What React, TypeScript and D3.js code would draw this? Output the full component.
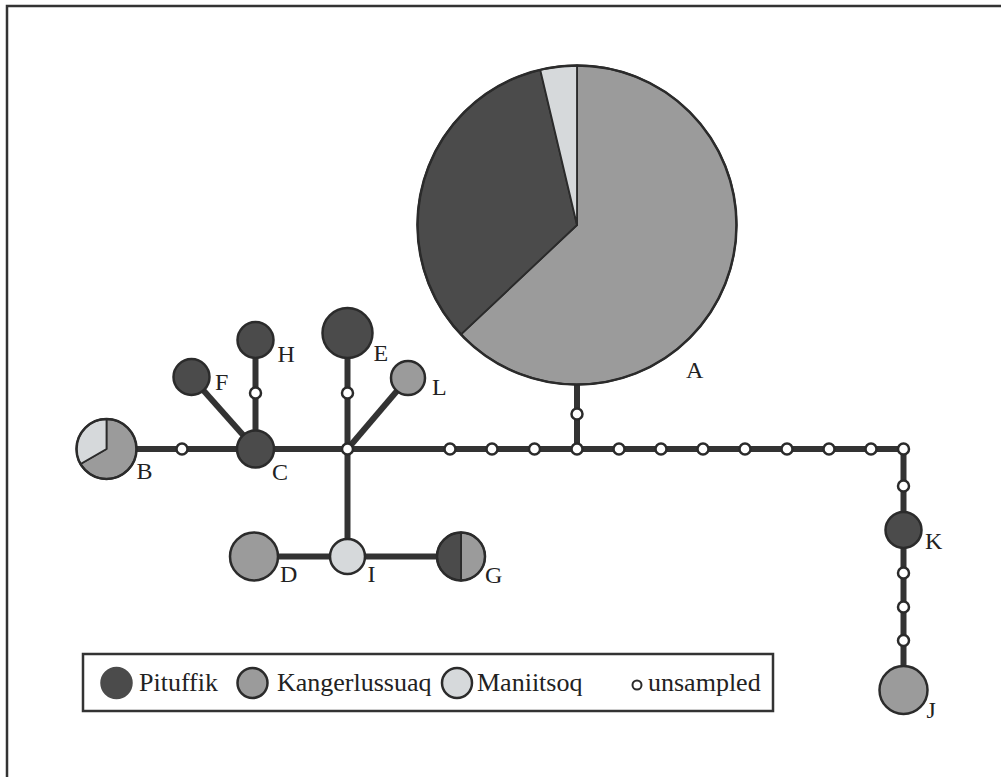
import React from "react";
import * as d3 from "d3";

// ---- data ----
const populations = ["Pituffik", "Kangerlussuaq", "Maniitsoq"];
const popColors = ["#4b4b4b", "#9b9b9b", "#d6d9db"];

// haplotype nodes: name, layout x, layout y (grid units), radius (units), counts per population
const hapNames = ["A", "B", "C", "D", "E", "F", "G", "H", "I", "J", "K", "L"];
const hapX = [57.7, 10.65, 25.55, 25.4, 34.75, 19.15, 46.1, 25.55, 34.75, 90.35, 90.35, 40.8];
const hapY = [22.5, 44.9, 44.9, 55.65, 33.3, 37.7, 55.65, 34.0, 55.65, 69.0, 53.0, 37.8];
const hapR = [15.95, 3.0, 1.85, 2.4, 2.5, 1.8, 2.4, 1.8, 1.75, 2.4, 1.8, 1.7];
const hapPituffik = [9, 0, 1, 0, 1, 1, 1, 1, 0, 0, 1, 0];
const hapKanger = [17, 2, 0, 1, 0, 0, 1, 0, 0, 1, 0, 1];
const hapManiitsoq = [1, 1, 0, 0, 0, 0, 0, 0, 1, 0, 0, 0];
// pie slice order (clockwise from 12 o'clock)
const sliceOrder = [1, 0, 2];
const labelDX = [10.9, 3.0, 1.65, 2.6, 2.6, 2.35, 2.4, 2.2, 2.0, 2.3, 2.15, 2.4];
const labelDY = [15.3, 3.0, 3.1, 2.55, 2.8, 1.3, 2.6, 2.2, 2.55, 2.75, 1.9, 1.7];

// unsampled (median) vertices
const medNames = ["u1", "uH", "hub", "uE", "m1", "m2", "m3", "m4", "m5", "m6", "m7", "m8", "m9", "m10", "m11", "m12", "uA", "k1", "k2", "k3", "k4"];
const medX = [18.2, 25.55, 34.75, 34.75, 45.0, 49.2, 53.45, 57.7, 61.9, 66.1, 70.3, 74.5, 78.7, 82.9, 87.1, 90.35, 57.7, 90.35, 90.35, 90.35, 90.35];
const medY = [44.9, 39.3, 44.9, 39.3, 44.9, 44.9, 44.9, 44.9, 44.9, 44.9, 44.9, 44.9, 44.9, 44.9, 44.9, 44.9, 41.4, 48.6, 57.3, 60.7, 64.05];

const edgeFrom = ["B", "u1", "C", "C", "uH", "C", "hub", "uE", "hub", "hub", "I", "I", "hub", "m1", "m2", "m3", "m4", "m5", "m6", "m7", "m8", "m9", "m10", "m11", "m4", "uA", "m12", "k1", "K", "k2", "k3", "k4"];
const edgeTo = ["u1", "C", "F", "uH", "H", "hub", "uE", "E", "L", "I", "D", "G", "m1", "m2", "m3", "m4", "m5", "m6", "m7", "m8", "m9", "m10", "m11", "m12", "uA", "A", "k1", "K", "k2", "k3", "k4", "J"];

const legendLabels = ["Pituffik", "Kangerlussuaq", "Maniitsoq", "unsampled"];

// ---- component ----
export default function App() {
  const W = 1001;
  const H = 777;
  const x = d3.scaleLinear().domain([0, 100]).range([0, 1000]);
  const y = d3.scaleLinear().domain([0, 100]).range([0, 1000]);
  const r = d3.scaleLinear().domain([0, 10]).range([0, 100]);

  const pos: Record<string, [number, number]> = {};
  hapNames.forEach((n, i) => (pos[n] = [x(hapX[i]), y(hapY[i])]));
  medNames.forEach((n, i) => (pos[n] = [x(medX[i]), y(medY[i])]));

  const ink = "#2b2b2b";
  const serif = "Liberation Serif, DejaVu Serif, serif";
  const pie = d3.pie<number>().sort(null).value((d) => d);

  const legendX = [116.5, 252.5, 457, 637];
  const legendTextX = [139, 277, 477, 648];

  return (
    <svg width={W} height={H} style={{ position: "absolute", left: 0, top: 0, background: "#fff" }}>
      <rect x={0} y={0} width={W} height={H} fill="#fff" />
      {/* frame */}
      <path d={`M7,${H} L7,6 L${W},6`} fill="none" stroke="#333" strokeWidth={2.5} />
      {/* edges */}
      {edgeFrom.map((f, i) => {
        const a = pos[f];
        const b = pos[edgeTo[i]];
        return (
          <line key={"e" + i} x1={a[0]} y1={a[1]} x2={b[0]} y2={b[1]} stroke="#333" strokeWidth={6} strokeLinecap="butt" />
        );
      })}
      {/* haplotypes */}
      {hapNames.map((n, i) => {
        const [cx, cy] = pos[n];
        const rad = r(hapR[i]);
        const counts = [hapPituffik[i], hapKanger[i], hapManiitsoq[i]];
        const ordered = sliceOrder.map((k) => ({ k, v: counts[k] })).filter((d) => d.v > 0);
        const arcs = pie(ordered.map((d) => d.v));
        const arc = d3.arc<d3.PieArcDatum<number>>().innerRadius(0).outerRadius(rad);
        return (
          <g key={n} transform={`translate(${cx},${cy})`}>
            {ordered.length === 1 ? (
              <circle r={rad} fill={popColors[ordered[0].k]} />
            ) : (
              arcs.map((a, j) => (
                <path key={j} d={arc(a) || ""} fill={popColors[ordered[j].k]} stroke={ink} strokeWidth={1.8} strokeLinejoin="round" />
              ))
            )}
            <circle r={rad} fill="none" stroke={ink} strokeWidth={2.5} />
            <text x={r(labelDX[i])} y={r(labelDY[i])} fontFamily={serif} fontSize={24} fill="#222">
              {n}
            </text>
          </g>
        );
      })}
      {/* unsampled */}
      {medNames.map((n) => (
        <circle key={n} cx={pos[n][0]} cy={pos[n][1]} r={5.5} fill="#fff" stroke={ink} strokeWidth={2.5} />
      ))}
      {/* legend */}
      <rect x={83} y={654} width={690} height={57} fill="#fff" stroke="#333" strokeWidth={2.5} />
      {legendLabels.map((lab, i) => (
        <g key={lab}>
          {i < 3 ? (
            <circle cx={legendX[i]} cy={683} r={15} fill={popColors[i]} stroke={i === 0 ? popColors[0] : ink} strokeWidth={2.5} />
          ) : (
            <circle cx={legendX[i]} cy={685} r={4.5} fill="#fff" stroke={ink} strokeWidth={2} />
          )}
          <text x={legendTextX[i]} y={691} fontFamily={serif} fontSize={26} fill="#222">
            {lab}
          </text>
        </g>
      ))}
    </svg>
  );
}
